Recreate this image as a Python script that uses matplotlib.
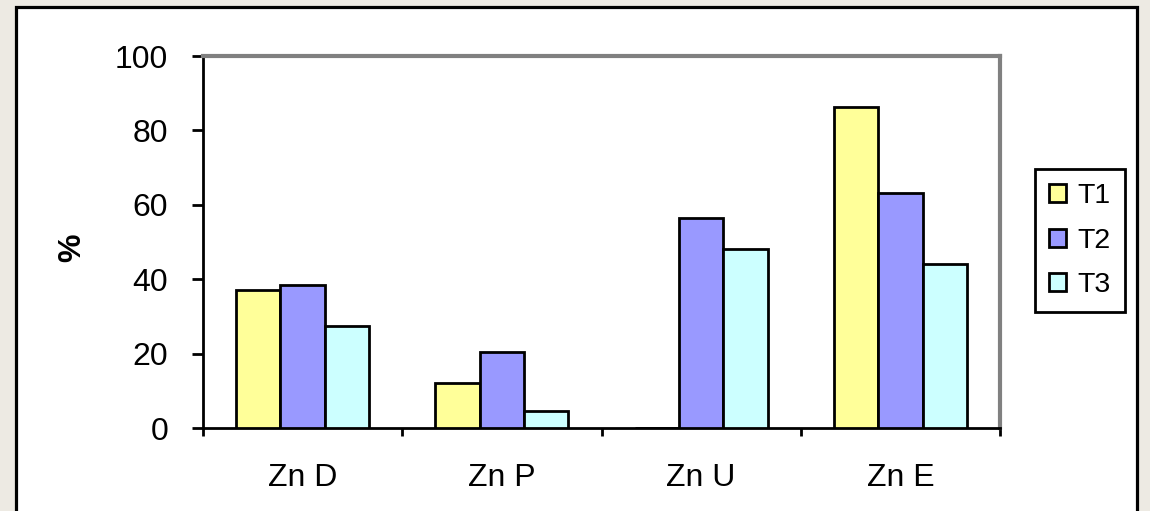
import numpy as np
import matplotlib.pyplot as plt
from matplotlib.patches import Rectangle

# Valeurs (%) par forme de zinc et par traitement
categories = ["Zn D", "Zn P", "Zn U", "Zn E"]
series_names = ["T1", "T2", "T3"]
t1 = [37.1, 12.1, 0.0, 86.3]
t2 = [38.4, 20.4, 56.4, 63.2]
t3 = [27.3, 4.6, 48.0, 44.1]
colors = ["#FFFF99", "#9999FF", "#CCFFFF"]
yticks = [0, 20, 40, 60, 80, 100]

plt.rcParams["font.family"] = ["Liberation Sans", "DejaVu Sans"]

W, H = 1150, 511
fig = plt.figure(figsize=(W / 100, H / 100), dpi=100)
fig.patch.set_facecolor("#EDEAE3")

# Cadre blanc du graphique
frame = Rectangle((16 / W, -0.05), (1137 - 16) / W, (H - 7) / H + 0.05,
                  transform=fig.transFigure, facecolor="white",
                  edgecolor="black", linewidth=2.3, zorder=-10)
fig.patches.append(frame)

ax = fig.add_axes([203 / W, 83 / H, (1000 - 203) / W, (428 - 56) / H])
ax.set_zorder(1)
ax.set_facecolor("white")

x = np.arange(len(categories))
width = 1 / 4.5
for i, (vals, name) in enumerate(zip([t1, t2, t3], series_names)):
    ax.bar(x + (i - 1) * width, vals, width, color=colors[i],
           edgecolor="black", linewidth=2, label=name, zorder=3)

ax.set_xlim(-0.5, len(categories) - 0.5)
ax.set_ylim(0, 100)
ax.set_yticks(yticks)
ax.tick_params(axis="y", direction="out", length=8, width=2, labelsize=23, pad=17)

# Graduations x entre les categories, etiquettes centrees
ax.set_xticks(np.arange(len(categories) + 1) - 0.5)
ax.set_xticklabels([])
ax.set_xticks(x, minor=True)
ax.set_xticklabels(categories, minor=True)
ax.tick_params(axis="x", which="major", direction="out", length=6, width=2)
ax.tick_params(axis="x", which="minor", length=0, labelsize=23, pad=25)

for side in ["top", "right"]:
    ax.spines[side].set_color("#808080")
    ax.spines[side].set_linewidth(3)
for side in ["left", "bottom"]:
    ax.spines[side].set_color("black")
    ax.spines[side].set_linewidth(2)

ax.set_ylabel("%", fontsize=23, fontweight="bold")
ax.yaxis.set_label_coords(-0.1455, 0.484)

leg = fig.legend(loc="upper left", bbox_to_anchor=(1035 / W, (H - 169) / H),
                 fontsize=20.5, frameon=True, fancybox=False, edgecolor="black",
                 framealpha=1, handlelength=0.6, handleheight=0.6,
                 handletextpad=0.4, labelspacing=0.65, borderpad=0.5,
                 borderaxespad=0)
leg.get_frame().set_linewidth(2)
for h in leg.legend_handles:
    h.set_linewidth(2)

fig.savefig("out.png", dpi=100, facecolor=fig.get_facecolor())
